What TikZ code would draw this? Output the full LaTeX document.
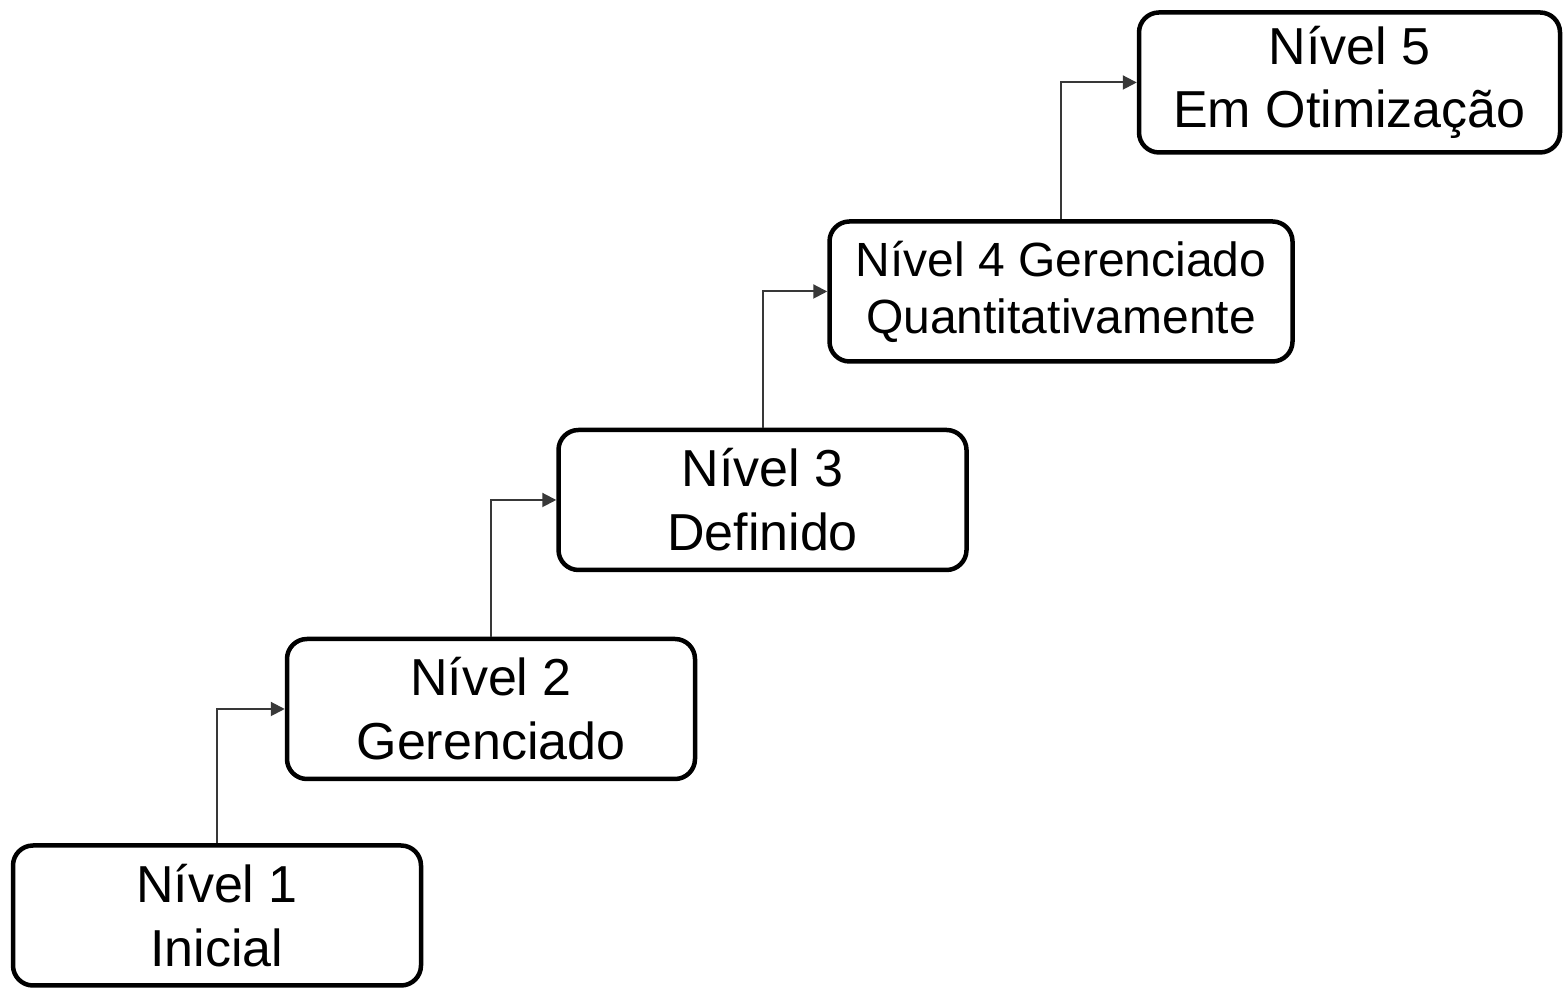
\documentclass[tikz,border=0pt]{standalone}
\usepackage{fontspec}
\setmainfont{Liberation Sans}
\usetikzlibrary{arrows.meta, positioning}

\begin{document}
\begin{tikzpicture}[
	x=1pt, y=1pt,
	level/.style = {draw, line width=2.25pt, rounded corners=10pt, align=center,
	                 minimum height=70pt, inner sep=0pt,
	                 font=\fontsize{26}{32}\selectfont},
	stair/.style = {draw=black!78, line width=1pt, -{Triangle[length=7pt, width=7pt]}}
     ]
		\useasboundingbox (0,0) rectangle (783.5,494);
%
		\node[level, minimum width=204pt] (n1) at (108.5,36.25)  {Nível 1\\Inicial};
		\node[level, minimum width=204pt] (n2) at (245.5,139.5)  {Nível 2\\Gerenciado};
		\node[level, minimum width=204pt] (n3) at (381.25,244)   {Nível 3\\Definido};
		\node[level, minimum width=231.5pt, font=\fontsize{24}{28.5}\selectfont]
		                                  (n4) at (530.5,348.25) {Nível 4 Gerenciado\\Quantitativamente};
		\node[level, minimum width=210.5pt, font=\fontsize{26}{31.5}\selectfont]
		                                  (n5) at (674.75,452.75) {Nível 5\\Em Otimização};
%
		\draw[stair] (n1.north) |- (n2.west);
		\draw[stair] (n2.north) |- (n3.west);
		\draw[stair] (n3.north) |- (n4.west);
		\draw[stair] (n4.north) |- (n5.west);
\end{tikzpicture}
\end{document}
